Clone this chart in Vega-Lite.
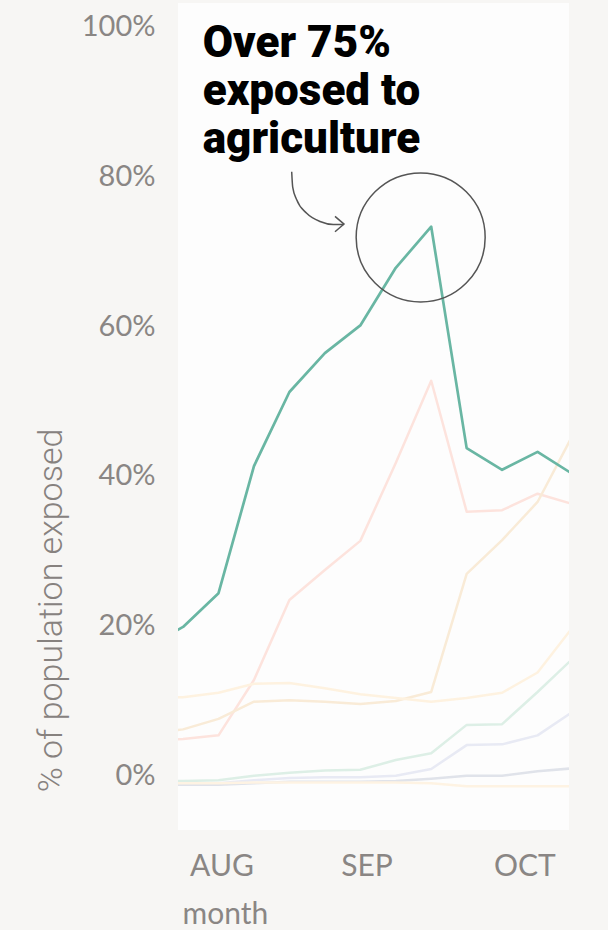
{
  "$schema": "https://vega.github.io/schema/vega-lite/v6.json",
  "autosize": "none",
  "width": 391,
  "height": 827,
  "padding": {"left": 178, "top": 3, "right": 39, "bottom": 100},
  "background": "#f7f6f4",
  "config": {"view": {"fill": "#fdfdfd", "stroke": null}},
  "datasets": {
    "series": [
      {"date": "2020-07-18", "sector": "agriculture", "pct": 17.2},
      {"date": "2020-07-25", "sector": "agriculture", "pct": 19.8},
      {"date": "2020-08-01", "sector": "agriculture", "pct": 24.3},
      {"date": "2020-08-08", "sector": "agriculture", "pct": 41.3},
      {"date": "2020-08-15", "sector": "agriculture", "pct": 51.2},
      {"date": "2020-08-22", "sector": "agriculture", "pct": 56.4},
      {"date": "2020-08-29", "sector": "agriculture", "pct": 60.1},
      {"date": "2020-09-05", "sector": "agriculture", "pct": 67.8},
      {"date": "2020-09-12", "sector": "agriculture", "pct": 73.3},
      {"date": "2020-09-19", "sector": "agriculture", "pct": 43.7},
      {"date": "2020-09-26", "sector": "agriculture", "pct": 40.8},
      {"date": "2020-10-03", "sector": "agriculture", "pct": 43.2},
      {"date": "2020-10-10", "sector": "agriculture", "pct": 40.2},

      {"date": "2020-07-18", "sector": "food", "pct": 4.6},
      {"date": "2020-07-25", "sector": "food", "pct": 4.8},
      {"date": "2020-08-01", "sector": "food", "pct": 5.3},
      {"date": "2020-08-08", "sector": "food", "pct": 12.7},
      {"date": "2020-08-15", "sector": "food", "pct": 23.4},
      {"date": "2020-08-22", "sector": "food", "pct": 27.4},
      {"date": "2020-08-29", "sector": "food", "pct": 31.3},
      {"date": "2020-09-05", "sector": "food", "pct": 41.7},
      {"date": "2020-09-12", "sector": "food", "pct": 52.7},
      {"date": "2020-09-19", "sector": "food", "pct": 35.2},
      {"date": "2020-09-26", "sector": "food", "pct": 35.4},
      {"date": "2020-10-03", "sector": "food", "pct": 37.6},
      {"date": "2020-10-10", "sector": "food", "pct": 36.2},

      {"date": "2020-07-18", "sector": "construction", "pct": 5.5},
      {"date": "2020-07-25", "sector": "construction", "pct": 6.1},
      {"date": "2020-08-01", "sector": "construction", "pct": 7.5},
      {"date": "2020-08-08", "sector": "construction", "pct": 9.8},
      {"date": "2020-08-15", "sector": "construction", "pct": 10.0},
      {"date": "2020-08-22", "sector": "construction", "pct": 9.8},
      {"date": "2020-08-29", "sector": "construction", "pct": 9.5},
      {"date": "2020-09-05", "sector": "construction", "pct": 9.9},
      {"date": "2020-09-12", "sector": "construction", "pct": 11.1},
      {"date": "2020-09-19", "sector": "construction", "pct": 26.9},
      {"date": "2020-09-26", "sector": "construction", "pct": 31.4},
      {"date": "2020-10-03", "sector": "construction", "pct": 36.5},
      {"date": "2020-10-10", "sector": "construction", "pct": 45.5},

      {"date": "2020-07-18", "sector": "transport", "pct": 10.3},
      {"date": "2020-07-25", "sector": "transport", "pct": 10.4},
      {"date": "2020-08-01", "sector": "transport", "pct": 11.0},
      {"date": "2020-08-08", "sector": "transport", "pct": 12.2},
      {"date": "2020-08-15", "sector": "transport", "pct": 12.3},
      {"date": "2020-08-22", "sector": "transport", "pct": 11.6},
      {"date": "2020-08-29", "sector": "transport", "pct": 10.8},
      {"date": "2020-09-05", "sector": "transport", "pct": 10.3},
      {"date": "2020-09-12", "sector": "transport", "pct": 9.8},
      {"date": "2020-09-19", "sector": "transport", "pct": 10.3},
      {"date": "2020-09-26", "sector": "transport", "pct": 11.0},
      {"date": "2020-10-03", "sector": "transport", "pct": 13.7},
      {"date": "2020-10-10", "sector": "transport", "pct": 19.8},

      {"date": "2020-07-18", "sector": "retail", "pct": -0.8},
      {"date": "2020-07-25", "sector": "retail", "pct": -0.8},
      {"date": "2020-08-01", "sector": "retail", "pct": -0.7},
      {"date": "2020-08-08", "sector": "retail", "pct": -0.1},
      {"date": "2020-08-15", "sector": "retail", "pct": 0.3},
      {"date": "2020-08-22", "sector": "retail", "pct": 0.6},
      {"date": "2020-08-29", "sector": "retail", "pct": 0.7},
      {"date": "2020-09-05", "sector": "retail", "pct": 2.0},
      {"date": "2020-09-12", "sector": "retail", "pct": 2.9},
      {"date": "2020-09-19", "sector": "retail", "pct": 6.7},
      {"date": "2020-09-26", "sector": "retail", "pct": 6.8},
      {"date": "2020-10-03", "sector": "retail", "pct": 11.1},
      {"date": "2020-10-10", "sector": "retail", "pct": 15.6},

      {"date": "2020-07-18", "sector": "health", "pct": -1.2},
      {"date": "2020-07-25", "sector": "health", "pct": -1.2},
      {"date": "2020-08-01", "sector": "health", "pct": -1.1},
      {"date": "2020-08-08", "sector": "health", "pct": -0.7},
      {"date": "2020-08-15", "sector": "health", "pct": -0.4},
      {"date": "2020-08-22", "sector": "health", "pct": -0.3},
      {"date": "2020-08-29", "sector": "health", "pct": -0.3},
      {"date": "2020-09-05", "sector": "health", "pct": -0.1},
      {"date": "2020-09-12", "sector": "health", "pct": 0.8},
      {"date": "2020-09-19", "sector": "health", "pct": 4.0},
      {"date": "2020-09-26", "sector": "health", "pct": 4.1},
      {"date": "2020-10-03", "sector": "health", "pct": 5.3},
      {"date": "2020-10-10", "sector": "health", "pct": 8.5},

      {"date": "2020-07-18", "sector": "education", "pct": -1.3},
      {"date": "2020-07-25", "sector": "education", "pct": -1.3},
      {"date": "2020-08-01", "sector": "education", "pct": -1.3},
      {"date": "2020-08-08", "sector": "education", "pct": -1.1},
      {"date": "2020-08-15", "sector": "education", "pct": -0.9},
      {"date": "2020-08-22", "sector": "education", "pct": -0.9},
      {"date": "2020-08-29", "sector": "education", "pct": -0.9},
      {"date": "2020-09-05", "sector": "education", "pct": -0.8},
      {"date": "2020-09-12", "sector": "education", "pct": -0.5},
      {"date": "2020-09-19", "sector": "education", "pct": -0.1},
      {"date": "2020-09-26", "sector": "education", "pct": -0.1},
      {"date": "2020-10-03", "sector": "education", "pct": 0.5},
      {"date": "2020-10-10", "sector": "education", "pct": 0.9},

      {"date": "2020-07-18", "sector": "office", "pct": -1.1},
      {"date": "2020-07-25", "sector": "office", "pct": -1.1},
      {"date": "2020-08-01", "sector": "office", "pct": -1.1},
      {"date": "2020-08-08", "sector": "office", "pct": -1.0},
      {"date": "2020-08-15", "sector": "office", "pct": -1.0},
      {"date": "2020-08-22", "sector": "office", "pct": -1.0},
      {"date": "2020-08-29", "sector": "office", "pct": -1.0},
      {"date": "2020-09-05", "sector": "office", "pct": -1.0},
      {"date": "2020-09-12", "sector": "office", "pct": -1.1},
      {"date": "2020-09-19", "sector": "office", "pct": -1.5},
      {"date": "2020-09-26", "sector": "office", "pct": -1.5},
      {"date": "2020-10-03", "sector": "office", "pct": -1.5},
      {"date": "2020-10-10", "sector": "office", "pct": -1.5}
    ],
    "arrow": [
      {"date": "2020-08-15T10:48:00Z", "pct": 80.65},
      {"date": "2020-08-15T15:36:00Z", "pct": 78.6},
      {"date": "2020-08-16T10:33:00Z", "pct": 76.9},
      {"date": "2020-08-18T09:50:00Z", "pct": 75.1},
      {"date": "2020-08-21T01:00:00Z", "pct": 74.0},
      {"date": "2020-08-23T16:00:00Z", "pct": 73.6},
      {"date": "2020-08-25T17:00:00Z", "pct": 73.6}
    ],
    "arrowhead": [{"date": "2020-08-25T18:40:00Z", "pct": 73.65}],
    "circle": [{"date": "2020-09-09T22:00:00Z", "pct": 71.86}],
    "note": [{"date": "2020-07-28T21:00:00Z", "pct": 96.0, "label": "Over 75%\nexposed to\nagriculture"}]
  },
  "encoding": {
    "x": {
      "field": "date",
      "type": "temporal",
      "scale": {"type": "utc", "domain": [{"year": 2020, "month": 7, "date": 24, "utc": true}, {"year": 2020, "month": 10, "date": 9, "hours": 5, "utc": true}]},
      "axis": {
        "title": "month",
        "values": [{"year": 2020, "month": 8, "date": 1, "utc": true}, {"year": 2020, "month": 9, "date": 1, "utc": true}, {"year": 2020, "month": 10, "date": 1, "utc": true}],
        "labelExpr": "upper(utcFormat(datum.value, '%b'))",
        "labelOffset": {"condition": [{"test": "utcmonth(datum.value) == 7", "value": 3}, {"test": "utcmonth(datum.value) == 8", "value": -9}], "value": -3},
        "labelFont": "Lato",
        "labelFontSize": 30,
        "labelColor": "#8a8684",
        "labelBaseline": "alphabetic",
        "labelPadding": 45,
        "ticks": false,
        "tickSize": 0,
        "domain": false,
        "grid": false,
        "labelFlush": false,
        "titleFont": "Lato",
        "titleFontSize": 30,
        "titleFontWeight": "normal",
        "titleColor": "#8a8684",
        "titleAlign": "left",
        "titleAnchor": "start",
        "titleBaseline": "alphabetic",
        "titleX": 4,
        "titleY": 93
      }
    },
    "y": {
      "field": "pct",
      "type": "quantitative",
      "scale": {"domain": [-7.35, 103.2], "nice": false, "zero": false},
      "axis": {
        "title": "% of population exposed",
        "values": [0, 20, 40, 60, 80, 100],
        "labelExpr": "datum.value + '%'",
        "labelFont": "Lato",
        "labelFontWeight": "normal",
        "labelFontSize": 29,
        "labelColor": "#8a8684",
        "labelPadding": 23,
        "ticks": false,
        "tickSize": 0,
        "domain": false,
        "grid": false,
        "titleFont": "Roboto",
        "titleFontSize": 34,
        "titleFontWeight": 300,
        "titleColor": "#87827f",
        "titleAlign": "center",
        "titleBaseline": "alphabetic",
        "titleAngle": -90,
        "titleX": -117,
        "titleY": 607
      }
    }
  },
  "layer": [
    {
      "data": {"name": "series"},
      "transform": [{"filter": "datum.sector != 'agriculture'"}],
      "mark": {"type": "line", "clip": true, "strokeWidth": 2.5, "strokeJoin": "round"},
      "encoding": {
        "color": {
          "field": "sector",
          "type": "nominal",
          "legend": null,
          "scale": {
            "domain": ["agriculture", "food", "construction", "transport", "retail", "health", "education", "office"],
            "range": ["#69b6a3", "#fde3dd", "#f9ebd7", "#fef2e0", "#ddefe6", "#e8eaf4", "#e0e3ea", "#fef3e3"]
          }
        }
      }
    },
    {
      "data": {"name": "series"},
      "transform": [{"filter": "datum.sector == 'agriculture'"}],
      "mark": {"type": "line", "clip": true, "strokeWidth": 2.7, "strokeJoin": "round", "color": "#69b6a3"},
      "encoding": {}
    },
    {
      "data": {"name": "circle"},
      "mark": {"type": "point", "shape": "circle", "filled": false, "size": 16641, "stroke": "#555555", "strokeWidth": 1.5, "opacity": 1},
      "encoding": {}
    },
    {
      "data": {"name": "arrow"},
      "mark": {"type": "line", "interpolate": "monotone", "stroke": "#555555", "strokeWidth": 1.5},
      "encoding": {}
    },
    {
      "data": {"name": "arrowhead"},
      "mark": {"type": "point", "shape": "M-1,-0.85L0,0L-1,0.85", "filled": false, "size": 324, "stroke": "#555555", "strokeWidth": 1.5, "opacity": 1},
      "encoding": {}
    },
    {
      "data": {"name": "note"},
      "mark": {"type": "text", "align": "left", "baseline": "alphabetic", "lineBreak": "\n", "font": "Roboto", "fontWeight": 900, "fontSize": 44, "lineHeight": 48, "color": "#000000"},
      "encoding": {"text": {"field": "label"}}
    }
  ]
}
